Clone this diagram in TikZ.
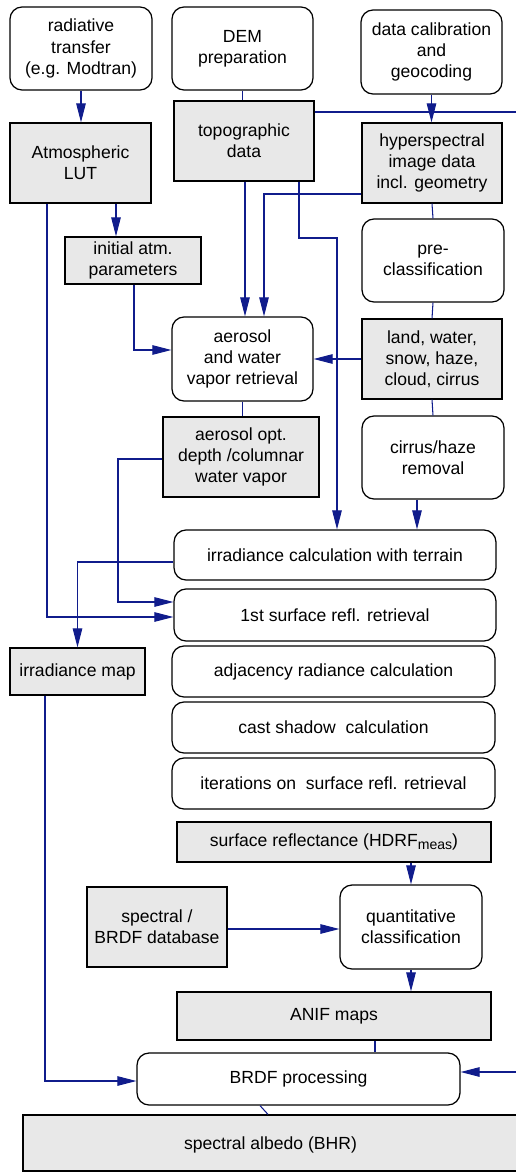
\documentclass[tikz,border=0pt]{standalone}
\usepackage{fontspec}
\setmainfont{Liberation Sans}
\usetikzlibrary{arrows.meta}

\definecolor{flowblue}{RGB}{16,28,140}
\definecolor{boxgray}{RGB}{232,232,232}

\begin{document}
\begin{tikzpicture}[x=0.02cm,y=-0.02cm,
  font=\fontsize{10}{12}\selectfont,
  procbox/.style={draw=black,line width=0.7pt,rounded corners=0.24cm,fill=white,align=center,inner sep=0pt},
  databox/.style={draw=black,line width=0.7pt,fill=boxgray,align=center,inner sep=0pt},
  flow/.style={draw=flowblue,line width=0.6pt},
  flowarr/.style={flow,-{Triangle[length=3.8mm,width=1.9mm]}}]

\useasboundingbox (0,0) rectangle (515,1172);

% Top row: inputs
\node[procbox,minimum width=2.84cm,minimum height=1.66cm] (rt) at (81,48.5) {radiative\\transfer\\(e.g. Modtran)};
\node[procbox,minimum width=2.82cm,minimum height=1.66cm] (dem) at (242.5,48.5) {DEM\\preparation};
\node[procbox,minimum width=2.82cm,minimum height=1.68cm] (cal) at (431.5,52) {data calibration\\and\\geocoding};

% Data products of the first stage
\node[databox,minimum width=2.82cm,minimum height=1.6cm] (lut) at (80.5,163) {Atmospheric\\LUT};
\node[databox,minimum width=2.8cm,minimum height=1.6cm] (topo) at (244,141) {topographic\\data};
\node[databox,minimum width=2.8cm,minimum height=1.6cm] (hyper) at (432,163) {hyperspectral\\image data\\incl. geometry};
\node[databox,minimum width=2.72cm,minimum height=0.94cm] (init) at (133,260.5) {initial atm.\\parameters};
\node[procbox,minimum width=2.84cm,minimum height=1.66cm] (precl) at (433,260.5) {pre-\\classification};

% Aerosol / water vapor and masks
\node[procbox,minimum width=2.82cm,minimum height=1.68cm] (aero) at (242.5,359) {aerosol\\and water\\vapor retrieval};
\node[databox,minimum width=2.8cm,minimum height=1.6cm] (land) at (432,359) {land, water,\\snow, haze,\\cloud, cirrus};
\node[databox,minimum width=3.12cm,minimum height=1.6cm] (aod) at (241,457) {aerosol opt.\\depth /columnar\\water vapor};
\node[procbox,minimum width=2.84cm,minimum height=1.66cm] (cirrus) at (433,457.5) {cirrus/haze\\removal};

% Main processing chain
\node[procbox,minimum width=6.44cm,minimum height=1cm] (irrcalc) at (335,555) {irradiance calculation with terrain};
\node[procbox,minimum width=6.44cm,minimum height=1.04cm] (surf1) at (335,615) {1st surface refl. retrieval};
\node[databox,minimum width=2.7cm,minimum height=0.94cm] (irrmap) at (77.5,671.5) {irradiance map};
\node[procbox,minimum width=6.46cm,minimum height=1.02cm] (adj) at (333.5,671.5) {adjacency radiance calculation};
\node[procbox,minimum width=6.46cm,minimum height=1.02cm] (cast) at (333.5,727.5) {cast shadow\ \ calculation};
\node[procbox,minimum width=6.46cm,minimum height=1.02cm] (iter) at (333.5,783.5) {iterations on\ \ surface refl. retrieval};
\node[databox,minimum width=6.28cm,minimum height=0.8cm] (hdrf) at (334,842) {surface reflectance (HDRF\raisebox{-0.35ex}{\fontsize{8}{8}\selectfont meas})};

% BRDF part
\node[databox,minimum width=2.8cm,minimum height=1.6cm] (db) at (157,927) {spectral /\\BRDF database};
\node[procbox,minimum width=2.84cm,minimum height=1.68cm] (quant) at (411,927) {quantitative\\classification};
\node[databox,minimum width=6.28cm,minimum height=0.96cm] (anif) at (334,1016) {ANIF maps};
\node[procbox,minimum width=6.46cm,minimum height=1.04cm] (brdf) at (298.5,1079) {BRDF processing};
% runs out past the right edge
\node[databox,minimum width=10.1cm,minimum height=1.12cm,text depth=0pt] (albedo) at (275.5,1143) {\hspace*{-0.2cm}spectral albedo (BHR)};

% Connectors
\draw[flowarr] (rt.south) -- (rt.south |- lut.north);
\draw[flow] (dem.south) -- (dem.south |- topo.north);
\draw[flowarr] (cal.south) -- (cal.south |- hyper.north);
\draw[flowarr] (topo.east |- 0,112) -| (530,1072) -- (brdf.east |- 0,1072);
\draw[flowarr] (116,0 |- lut.south) -- (116,0 |- init.north);
\draw[flowarr] (47,0 |- lut.south) |- (surf1.west |- 0,617);
\draw[flowarr] (134,0 |- init.south) |- (aero.west |- 0,350);
\draw[flowarr] (245,0 |- topo.south) -- (245,0 |- aero.north);
\draw[flowarr] (hyper.west |- 0,194) -| (264,0 |- aero.north);
\draw[flowarr] (299,0 |- topo.south) |- (337,238) -- (337,0 |- irrcalc.north);
\draw[flow] (hyper.south) -- (precl.north);
\draw[flow] (precl.south) -- (land.north);
\draw[flowarr] (land.west) -- (aero.east);
\draw[flow] (land.south) -- (cirrus.north);
\draw[flow] (aero.south) -- (aero.south |- aod.north);
\draw[flowarr] (417,0 |- cirrus.south) -- (417,0 |- irrcalc.north);
\draw[flowarr] (aod.west |- 0,459) -| (118,602) -- (surf1.west |- 0,602);
\draw[flowarr] (irrcalc.west |- 0,562) -| (irrmap.north);
\draw[flowarr] (45,0 |- irrmap.south) |- (brdf.west |- 0,1081);
\draw[flowarr] (quant.north |- hdrf.south) -- (quant.north);
\draw[flowarr] (db.east |- 0,929) -- (quant.west |- 0,929);
\draw[flowarr] (quant.south) -- (quant.south |- anif.north);
\draw[flow] (375,0 |- anif.south) -- (375,0 |- brdf.north);
\draw[flow] (260,0 |- brdf.south) -- (268,0 |- albedo.north);

\end{tikzpicture}
\end{document}
